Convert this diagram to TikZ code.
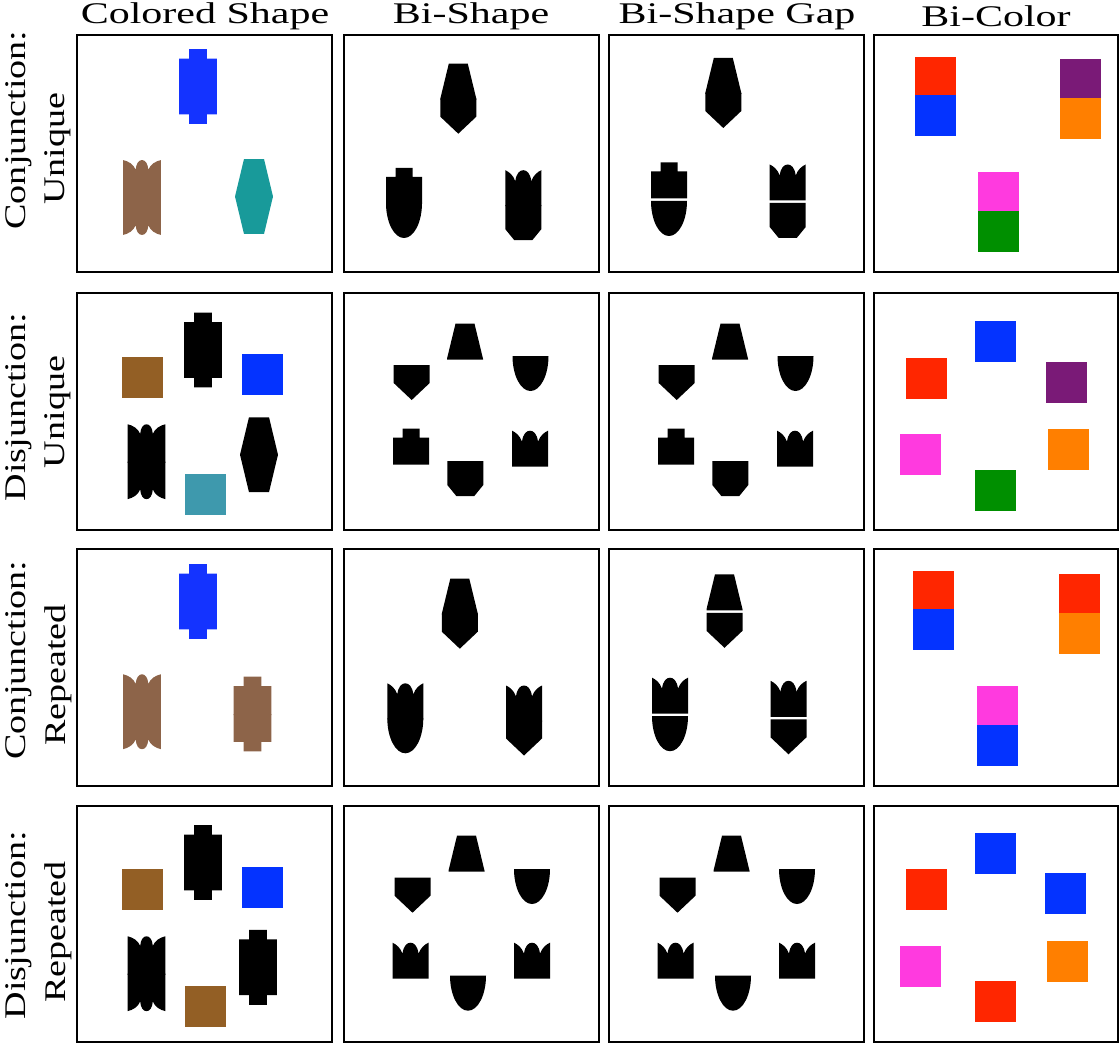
\documentclass[tikz,border=0pt]{standalone}
\usepackage{fontspec}
\setmainfont{Liberation Serif}
\definecolor{cblue}{HTML}{1433FF}
\definecolor{cbrown}{HTML}{8D6449}
\definecolor{cteal}{HTML}{189A9A}
\definecolor{sbrown}{HTML}{935F25}
\definecolor{steal}{HTML}{3E99AD}
\definecolor{bred}{HTML}{FF2600}
\definecolor{bblue}{HTML}{0433FF}
\definecolor{bpurple}{HTML}{7A1A77}
\definecolor{borange}{HTML}{FF7F00}
\definecolor{bpink}{HTML}{FF3ADF}
\definecolor{bgreen}{HTML}{008F00}
\newcommand{\hsx}[1]{\scalebox{1.4}[1]{#1}}
\newcommand{\rsx}[1]{\scalebox{1.27}[1]{#1}}
\tikzset{
 frame/.style={draw=black, line width=1.6pt},
 hdr/.style={font=\fontsize{30}{36}\selectfont, inner sep=0pt},
 rowlab/.style={font=\fontsize{30}{35}\selectfont, rotate=90, inner sep=0pt},
 notchT/.pic={\fill (-18,1) -- (-18,-26) -- (-8.5,-26) -- (-8.5,-35) -- (8.5,-35) -- (8.5,-26) -- (18,-26) -- (18,1) -- cycle;},
 notchB/.pic={\fill (-18,0) -- (-18,26) -- (-8.5,26) -- (-8.5,35) -- (8.5,35) -- (8.5,26) -- (18,26) -- (18,0) -- cycle;},
 trapT/.pic={\fill (-18,1) -- (-18,0) -- (-9.5,-35) -- (9.5,-35) -- (18,0) -- (18,1) -- cycle;},
 trapB/.pic={\fill (-18,0) -- (-9.5,35) -- (9.5,35) -- (18,0) -- cycle;},
 crownT/.pic={\fill (-18,1) -- (-18,-35) .. controls (-14.5,-33.5) and (-10,-30) .. (-8,-24) .. controls (-7,-32) and (-3.5,-35) .. (0,-35) .. controls (3.5,-35) and (7,-32) .. (8,-24) .. controls (10,-30) and (14.5,-33.5) .. (18,-35) -- (18,1) -- cycle;},
 scalT/.pic={\fill (-18,1) -- (-18,-35) .. controls (-13,-34) and (-8,-31) .. (-6,-26) .. controls (-5.5,-32) and (-3,-35) .. (0,-35) .. controls (3,-35) and (5.5,-32) .. (6,-26) .. controls (8,-31) and (13,-34) .. (18,-35) -- (18,1) -- cycle;},
 scalB/.pic={\fill (-18,0) -- (-18,35) .. controls (-13,34) and (-8,31) .. (-6,26) .. controls (-5.5,32) and (-3,35) .. (0,35) .. controls (3,35) and (5.5,32) .. (6,26) .. controls (8,31) and (13,34) .. (18,35) -- (18,0) -- cycle;},
 ellB/.pic={\fill (-18,0) arc[start angle=180,end angle=0,x radius=18,y radius=35] -- cycle;},
 chevB/.pic={\fill (-18,0) -- (-18,18) -- (0,35) -- (18,18) -- (18,0) -- cycle;},
 chamB/.pic={\fill (-18,0) -- (-18,24) -- (-9,35) -- (9,35) -- (18,24) -- (18,0) -- cycle;},
 big/.style={xscale=1.055, yscale=1.07}
}
\newcommand{\sq}[3]{\fill[#3] (#1,#2) rectangle ++(41,41);}
\newcommand{\both}[4]{\pic at (#1,#2) {#3}; \pic at (#1,#2) {#4};}
\newcommand{\gapped}[4]{\pic at (#1,#2-2) {#3}; \pic at (#1,#2+1.5) {#4};}
\newcommand{\cshape}[4]{\pic[big,color=#4] at (#1,#2) {#3T}; \pic[big,color=#4] at (#1,#2) {#3B};}
\begin{document}
\begin{tikzpicture}[x=1pt,y=-1pt]
\useasboundingbox (0,0) rectangle (1120,1043);
% headers
\node[hdr] (h1) at (205,16) {\hsx{Colored Shape}};
\node[hdr] (h2) at (471,16) {\hsx{Bi-Shape}};
\node[hdr] (h3) at (737,16) {\hsx{Bi-Shape Gap}};
\node[hdr] (h4) at (996,16) {\hsx{Bi-Color}};
% row labels
\node[rowlab] (r1a) at (19,130) {\rsx{Conjunction:}};
\node[rowlab] (r1b) at (58,148.5) {\rsx{Unique}};
\node[rowlab] (r2a) at (19,407) {\rsx{Disjunction:}};
\node[rowlab] (r2b) at (58,412) {\rsx{Unique}};
\node[rowlab] (r3a) at (19,660) {\rsx{Conjunction:}};
\node[rowlab] (r3b) at (58,675) {\rsx{Repeated}};
\node[rowlab] (r4a) at (19,925) {\rsx{Disjunction:}};
\node[rowlab] (r4b) at (58,932) {\rsx{Repeated}};
% frames
\foreach \xa/\xb in {77/332, 344/599, 609/864, 874/1118}{
  \foreach \ya/\yb in {35/272, 293/530, 549/786, 806/1042}{
    \draw[frame] (\xa,\ya) rectangle (\xb,\yb);
  }
}
% ---------- Row 1 ----------
\cshape{198}{86.5}{notch}{cblue}
\cshape{142}{197.5}{scal}{cbrown}
\cshape{254}{196.5}{trap}{cteal}
\both{458.3}{98.7}{trapT}{chevB}
\both{404}{203}{notchT}{ellB}
\both{523.3}{205.2}{crownT}{chamB}
\both{723.3}{93}{trapT}{chevB}
\gapped{669}{199.5}{notchT}{ellB}
\gapped{787.7}{201.5}{crownT}{chamB}
\sq{915}{57}{bred}\sq{915}{95}{bblue}
\sq{1060}{59}{bpurple}\sq{1060}{98}{borange}
\sq{978}{172}{bpink}\sq{978}{211}{bgreen}
% ---------- Row 2 ----------
\sq{122}{357}{sbrown}
\cshape{203}{350}{notch}{black}
\sq{242}{354}{bblue}
\cshape{146.5}{461.7}{scal}{black}
\sq{185}{474}{steal}
\cshape{259}{454.7}{trap}{black}
\foreach \dx in {0,265}{
  \pic at (465+\dx,358.7) {trapT};
  \pic at (411.7+\dx,365) {chevB};
  \pic at (530.5+\dx,356) {ellB};
  \pic at (411.2+\dx,463.7) {notchT};
  \pic at (465.3+\dx,461) {chamB};
  \pic at (530+\dx,465.7) {crownT};
}
\sq{975}{321}{bblue}
\sq{906}{358}{bred}
\sq{1046}{362}{bpurple}
\sq{900}{434}{bpink}
\sq{1048}{429}{borange}
\sq{975}{470}{bgreen}
% ---------- Row 3 ----------
\cshape{198}{601.5}{notch}{cblue}
\cshape{142}{711.7}{scal}{cbrown}
\cshape{252.5}{714}{notch}{cbrown}
\both{459.8}{613.7}{trapT}{chevB}
\both{405.3}{718.3}{crownT}{ellB}
\both{524}{720.5}{crownT}{chevB}
\gapped{724.5}{611.3}{trapT}{chevB}
\gapped{670}{714.7}{crownT}{ellB}
\gapped{788.5}{717.8}{crownT}{chevB}
\sq{913}{571}{bred}\sq{913}{609}{bblue}
\sq{1059}{574}{bred}\sq{1059}{613}{borange}
\sq{977}{686}{bpink}\sq{977}{725}{bblue}
% ---------- Row 4 ----------
\sq{122}{869}{sbrown}
\cshape{203}{862.5}{notch}{black}
\sq{242}{867}{bblue}
\cshape{146.5}{973.7}{scal}{black}
\sq{185}{986}{sbrown}
\cshape{258}{967.3}{notch}{black}
\foreach \dx in {0,265}{
  \pic at (466.5+\dx,870.7) {trapT};
  \pic at (412.5+\dx,877.7) {chevB};
  \pic at (532+\dx,869) {ellB};
  \pic at (410.5+\dx,977.7) {crownT};
  \pic at (468+\dx,975.7) {ellB};
  \pic at (532+\dx,977.7) {crownT};
}
\sq{975}{833}{bblue}
\sq{906}{869}{bred}
\sq{1045}{873}{bblue}
\sq{900}{946}{bpink}
\sq{1047}{941}{borange}
\sq{975}{981}{bred}
\end{tikzpicture}
\end{document}
